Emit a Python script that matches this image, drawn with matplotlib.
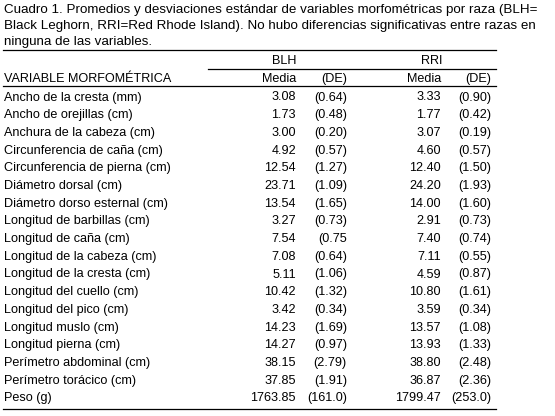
import matplotlib.pyplot as plt
from matplotlib.lines import Line2D

variables = ["Ancho de la cresta (mm)", "Ancho de orejillas (cm)", "Anchura de la cabeza (cm)",
             "Circunferencia de caña (cm)", "Circunferencia de pierna (cm)", "Diámetro dorsal (cm)",
             "Diámetro dorso esternal (cm)", "Longitud de barbillas (cm)", "Longitud de caña (cm)",
             "Longitud de la cabeza (cm)", "Longitud de la cresta (cm)", "Longitud del cuello (cm)",
             "Longitud del pico (cm)", "Longitud muslo (cm)", "Longitud pierna (cm)",
             "Perímetro abdominal (cm)", "Perímetro torácico (cm)", "Peso (g)"]
blh_media = ["3.08", "1.73", "3.00", "4.92", "12.54", "23.71", "13.54", "3.27", "7.54",
             "7.08", "5.11", "10.42", "3.42", "14.23", "14.27", "38.15", "37.85", "1763.85"]
blh_de = ["(0.64)", "(0.48)", "(0.20)", "(0.57)", "(1.27)", "(1.09)", "(1.65)", "(0.73)", "(0.75",
          "(0.64)", "(1.06)", "(1.32)", "(0.34)", "(1.69)", "(0.97)", "(2.79)", "(1.91)", "(161.0)"]
rri_media = ["3.33", "1.77", "3.07", "4.60", "12.40", "24.20", "14.00", "2.91", "7.40",
             "7.11", "4.59", "10.80", "3.59", "13.57", "13.93", "38.80", "36.87", "1799.47"]
rri_de = ["(0.90)", "(0.42)", "(0.19)", "(0.57)", "(1.50)", "(1.93)", "(1.60)", "(0.73)", "(0.74)",
          "(0.55)", "(0.87)", "(1.61)", "(0.34)", "(1.08)", "(1.33)", "(2.48)", "(2.36)", "(253.0)"]

W, H = 555, 416
fig = plt.figure(figsize=(W / 100, H / 100), dpi=100)
ax = fig.add_axes([0, 0, 1, 1])
ax.set_xlim(0, W)
ax.set_ylim(H, 0)
ax.axis("off")
plt.rcParams['font.family'] = ['Liberation Sans', 'DejaVu Sans']
fs = 9.1

title = ["Cuadro 1. Promedios y desviaciones estándar de variables morfométricas por raza (BLH=",
         "Black Leghorn, RRI=Red Rhode Island). No hubo diferencias significativas entre razas en",
         "ninguna de las variables."]
for i, t in enumerate(title):
    ax.text(4, 10 + i * 16, t, fontsize=9.6, va="center", ha="left")

def hline(y, x0, x1):
    ax.add_line(Line2D([x0, x1], [y, y], color="black", lw=0.9))

hline(50, 3, 496)
hline(69, 208, 496)
hline(86, 3, 496)
hline(409, 3, 496)

ax.text(284, 61, "BLH", fontsize=fs, ha="center", va="center")
ax.text(432, 61, "RRI", fontsize=fs, ha="center", va="center")
ax.text(4, 79, "VARIABLE MORFOMÉTRICA", fontsize=fs, va="center")
cols = [296, 347, 441, 491]
for x, t in zip(cols, ["Media", "(DE)", "Media", "(DE)"]):
    ax.text(x, 79, t, fontsize=fs, ha="right", va="center")

for i, v in enumerate(variables):
    y = 97.5 + i * 17.7
    ax.text(4, y, v, fontsize=fs, va="center")
    for x, arr in zip(cols, [blh_media, blh_de, rri_media, rri_de]):
        ax.text(x, y, arr[i], fontsize=fs, ha="right", va="center")

fig.savefig("out.png", dpi=100)
